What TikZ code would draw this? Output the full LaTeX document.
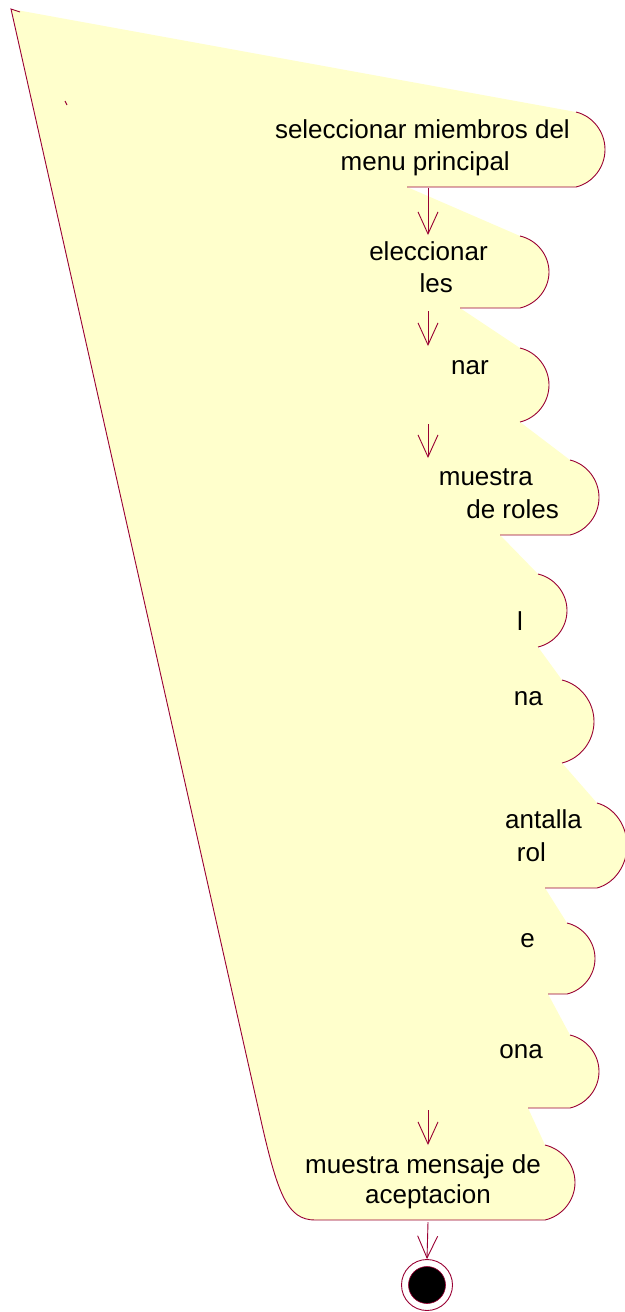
\documentclass[tikz,border=0pt]{standalone}
\usepackage{fontspec}
\setmainfont{Liberation Sans}
\usetikzlibrary{arrows.meta}
\definecolor{roseline}{RGB}{153,0,51}
\definecolor{rosefill}{RGB}{255,255,204}
% right rounded end of an activity: start x, top y, max x, bottom y
\newcommand{\rarc}[4]{.. controls ({#1+0.59*(#3-#1)},{#2+0.056*(#4-#2)}) and (#3,{#2+0.267*(#4-#2)}) .. (#3,{(#2+#4)/2}) .. controls (#3,{#4-0.267*(#4-#2)}) and ({#1+0.59*(#3-#1)},{#4-0.056*(#4-#2)}) .. (#1,#4)}
\newcommand{\rcap}[4]{-- (#1,#2) \rarc{#1}{#2}{#3}{#4}}
\tikzset{
  rline/.style={draw=roseline, line width=0.9pt},
  lbl/.style={font=\fontsize{26}{32}\selectfont, inner sep=0pt, anchor=base east, text=black},
  flow/.style={draw=roseline, line width=0.9pt, -{Straight Barb[length=22pt,width=20pt,line width=0.9pt]}},
}
\begin{document}
\begin{tikzpicture}[x=1pt,y=-1pt]
\useasboundingbox (0,0) rectangle (624,1312);
% merged yellow area
\fill[rosefill] (11,9) \rcap{576}{112}{605}{187} -- (407,187)
  \rcap{520}{236}{549}{308} -- (460,308)
  \rcap{520}{348}{549}{422}
  \rcap{570}{460}{599}{535} -- (500,535)
  \rcap{538}{574}{567}{647}
  \rcap{562}{680}{594}{763}
  \rcap{597}{803}{627}{888} -- (545,888)
  \rcap{567}{923}{595}{994} -- (548,994)
  \rcap{570}{1035}{599}{1108} -- (528,1108)
  \rcap{545}{1145}{575}{1220} -- (315,1220)
  .. controls (288,1220) and (278,1195) .. (262,1125) -- cycle;
% visible outlines
\draw[rline] (576,112) \rarc{576}{112}{605}{187} -- (407,187);
\draw[rline] (520,236) \rarc{520}{236}{549}{308} -- (460,308);
\draw[rline] (520,348) \rarc{520}{348}{549}{422};
\draw[rline] (570,460) \rarc{570}{460}{599}{535} -- (500,535);
\draw[rline] (538,574) \rarc{538}{574}{567}{647};
\draw[rline] (562,680) \rarc{562}{680}{594}{763};
\draw[rline] (597,803) \rarc{597}{803}{627}{888} -- (545,888);
\draw[rline] (567,923) \rarc{567}{923}{595}{994} -- (548,994);
\draw[rline] (570,1035) \rarc{570}{1035}{599}{1108} -- (528,1108);
\draw[rline] (545,1145) \rarc{545}{1145}{575}{1220} -- (315,1220)
  .. controls (288,1220) and (278,1195) .. (262,1125) -- (11,9) -- (20,12);
\draw[rline] (65,101) -- (67,105);
% labels
\node[lbl] (t1a) at (570,138) {seleccionar miembros del};
\node[lbl] (t1b) at (510,170) {menu principal};
\node[lbl] (t2a) at (488,260) {eleccionar};
\node[lbl] (t2b) at (453,292) {les};
\node[lbl] (t3a) at (489,374) {nar};
\node[lbl] (t4a) at (533,485) {muestra};
\node[lbl] (t4b) at (559,518) {de roles};
\node[lbl] (t5a) at (523,630) {l};
\node[lbl] (t6a) at (543,705) {na};
\node[lbl] (t7a) at (582,828) {antalla};
\node[lbl] (t7b) at (546,861) {rol};
\node[lbl] (t8a) at (535,947) {e};
\node[lbl] (t9a) at (543,1058) {ona};
\node[lbl, anchor=base] (t10a) at (423,1173) {muestra mensaje de};
\node[lbl, anchor=base] (t10b) at (428,1203) {aceptacion};
% final state
\node[circle, draw=roseline, fill=white, line width=0.9pt, minimum size=51pt, inner sep=0pt] (fin) at (427,1285) {};
\node[circle, draw=roseline, fill=black, line width=0.6pt, minimum size=37pt, inner sep=0pt] (finin) at (427,1285) {};
% transitions
\coordinate (a1s) at (428,188);
\coordinate (a1e) at (428,235);
\coordinate (a2s) at (428,311);
\coordinate (a2e) at (428,346);
\coordinate (a3s) at (428,424);
\coordinate (a3e) at (428,458);
\coordinate (a4s) at (428,1110);
\coordinate (a4e) at (428,1145);
\coordinate (a5s) at (428,1222);
\draw[flow] (a1s) -- (a1e);
\draw[flow] (a2s) -- (a2e);
\draw[flow] (a3s) -- (a3e);
\draw[flow] (a4s) -- (a4e);
\draw[flow] (a5s) -- (fin.north);
\end{tikzpicture}
\end{document}
